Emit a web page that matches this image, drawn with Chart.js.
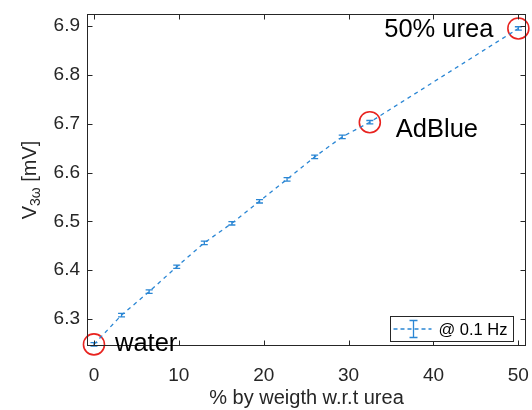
<!DOCTYPE html>
<html><head><meta charset="utf-8">
<script src="https://cdn.jsdelivr.net/npm/chart.js@4/dist/chart.umd.min.js"></script>
<style>html,body{margin:0;padding:0;background:#fff}#wrap{width:532px;height:410px}</style>
</head><body><div id="wrap"><canvas id="c" width="532" height="410"></canvas></div>
<script>
// ---- data ----
const ureaPct = [0, 3.25, 6.5, 9.75, 13, 16.25, 19.5, 22.75, 26, 29.25, 32.5, 50];
const v3w     = [6.248, 6.308, 6.356, 6.407, 6.456, 6.496, 6.541, 6.586, 6.632, 6.673, 6.703, 6.895];
const v3wErr  = [0.0035, 0.0035, 0.0035, 0.0035, 0.0035, 0.0035, 0.0035, 0.0035, 0.0035, 0.0035, 0.0035, 0.0035];
const xTickValues = [0, 10, 20, 30, 40, 50];
const xTickLabels = ['0', '10', '20', '30', '40', '50'];
const yTickValues = [6.3, 6.4, 6.5, 6.6, 6.7, 6.8, 6.9];
const yTickLabels = ['6.3', '6.4', '6.5', '6.6', '6.7', '6.8', '6.9'];
const markedIdx   = [0, 10, 11];
const markedNames = ['water', 'AdBlue', '50% urea'];
const seriesLabel = '@ 0.1 Hz';
const xTitle = '% by weigth w.r.t urea';
const yTitleMain = 'V', yTitleSub = '3\u03C9', yTitleRest = ' [mV]';

// ---- styles ----
const FONT = '"Liberation Sans", Arial, Helvetica, sans-serif';
const AX = '#262626';
const BLUE = '#2a86d4';

const points = ureaPct.map((x, i) => ({x, y: v3w[i]}));
const marked = markedIdx.map(i => ({x: ureaPct[i], y: v3w[i]}));

const errorBars = {
  id: 'errorBars',
  afterDatasetsDraw(chart) {
    const ctx = chart.ctx, xs = chart.scales.x, ys = chart.scales.y;
    ctx.save();
    ctx.strokeStyle = BLUE; ctx.lineWidth = 1.3;
    points.forEach((p, i) => {
      const px = xs.getPixelForValue(p.x);
      const y1 = ys.getPixelForValue(p.y - v3wErr[i]);
      const y2 = ys.getPixelForValue(p.y + v3wErr[i]);
      ctx.beginPath();
      ctx.moveTo(px, y1); ctx.lineTo(px, y2);
      ctx.moveTo(px - 3.5, y1); ctx.lineTo(px + 3.5, y1);
      ctx.moveTo(px - 3.5, y2); ctx.lineTo(px + 3.5, y2);
      ctx.stroke();
    });
    ctx.restore();
  }
};

const frame = {
  id: 'frame',
  afterDraw(chart) {
    const ctx = chart.ctx, a = chart.chartArea, xs = chart.scales.x, ys = chart.scales.y;
    ctx.save();
    ctx.strokeStyle = AX; ctx.lineWidth = 1;
    const L = Math.round(a.left) + 0.5, R = Math.round(a.right) - 0.5;
    const T = Math.round(a.top) + 0.5, B = Math.round(a.bottom) - 0.5;
    ctx.strokeRect(L, T, R - L, B - T);
    ctx.beginPath();
    const tl = 5;
    xTickValues.forEach(v => {
      const px = Math.round(xs.getPixelForValue(v)) + 0.5;
      ctx.moveTo(px, B); ctx.lineTo(px, B - tl);
      ctx.moveTo(px, T); ctx.lineTo(px, T + tl);
    });
    yTickValues.forEach(v => {
      const py = Math.round(ys.getPixelForValue(v)) + 0.5;
      ctx.moveTo(L, py); ctx.lineTo(L + tl, py);
      ctx.moveTo(R, py); ctx.lineTo(R - tl, py);
    });
    ctx.stroke();

    // y title with subscript
    ctx.fillStyle = AX;
    ctx.translate(30, (a.top + a.bottom) / 2);
    ctx.rotate(-Math.PI / 2);
    ctx.textBaseline = 'middle';
    ctx.font = '20px ' + FONT;
    const w1 = ctx.measureText(yTitleMain).width;
    const w3 = ctx.measureText(yTitleRest).width;
    ctx.font = '14px ' + FONT;
    const w2 = ctx.measureText(yTitleSub).width;
    let x0 = -(w1 + w2 + w3) / 2;
    ctx.font = '20px ' + FONT;
    ctx.fillText(yTitleMain, x0, 0);
    ctx.font = '14px ' + FONT;
    ctx.fillText(yTitleSub, x0 + w1, 6);
    ctx.font = '20px ' + FONT;
    ctx.fillText(yTitleRest, x0 + w1 + w2, 0);
    ctx.restore();

    // annotations
    ctx.save();
    ctx.fillStyle = '#000';
    ctx.font = '25.5px ' + FONT;
    ctx.textBaseline = 'middle';
    const offs = [[21, 0, 'left'], [26, 8, 'left'], [-25, 2, 'right']];
    markedIdx.forEach((idx, k) => {
      const px = xs.getPixelForValue(ureaPct[idx]);
      const py = ys.getPixelForValue(v3w[idx]);
      ctx.textAlign = offs[k][2];
      ctx.fillText(markedNames[k], px + offs[k][0], py + offs[k][1]);
    });
    ctx.restore();

    // legend
    ctx.save();
    const bx = 390.5, by = 316.5, bw = 123, bh = 25;
    ctx.fillStyle = '#fff';
    ctx.fillRect(bx, by, bw, bh);
    ctx.strokeStyle = AX; ctx.lineWidth = 1;
    ctx.strokeRect(bx, by, bw, bh);
    ctx.strokeStyle = BLUE; ctx.lineWidth = 1.3;
    ctx.setLineDash([4, 3]);
    ctx.beginPath(); ctx.moveTo(bx + 3, by + bh / 2); ctx.lineTo(bx + 41, by + bh / 2); ctx.stroke();
    ctx.setLineDash([]);
    const cx = bx + 23;
    ctx.beginPath();
    ctx.moveTo(cx, by + 4); ctx.lineTo(cx, by + bh - 4);
    ctx.moveTo(cx - 4, by + 4); ctx.lineTo(cx + 4, by + 4);
    ctx.moveTo(cx - 4, by + bh - 4); ctx.lineTo(cx + 4, by + bh - 4);
    ctx.stroke();
    ctx.fillStyle = '#000';
    ctx.font = '16.5px ' + FONT;
    ctx.textBaseline = 'middle';
    ctx.fillText(seriesLabel, bx + 48, by + bh / 2 + 1);
    ctx.restore();
  }
};

new Chart(document.getElementById('c'), {
  type: 'scatter',
  data: {
    datasets: [
      {label: seriesLabel, data: points, showLine: true, borderColor: BLUE, borderWidth: 1.3,
       borderDash: [4, 4], pointRadius: 0, fill: false, tension: 0},
      {label: 'marked', data: marked, showLine: false, pointRadius: 10.5, pointHoverRadius: 10.5,
       pointBorderColor: '#e8231f', pointBackgroundColor: 'rgba(0,0,0,0)', pointBorderWidth: 1.6, clip: false}
    ]
  },
  options: {
    responsive: false, animation: false, devicePixelRatio: 1,
    layout: {padding: {left: 0, right: 6, top: 14, bottom: 0}, autoPadding: false},
    plugins: {legend: {display: false}, tooltip: {enabled: false}},
    scales: {
      x: {
        type: 'linear', min: -0.82, max: 50.9,
        afterBuildTicks: s => { s.ticks = xTickValues.map(v => ({value: v})); },
        afterFit: s => { s.height = 64; s.paddingLeft = 0; s.paddingRight = 0; },
        grid: {display: false, drawTicks: false},
        border: {display: false},
        ticks: {padding: 18, color: AX, font: {family: FONT, size: 19},
                callback: (v) => xTickLabels[xTickValues.indexOf(v)], maxRotation: 0, autoSkip: false},
        title: {display: true, text: xTitle, color: AX, font: {family: FONT, size: 20}, padding: {top: 0, bottom: 0}}
      },
      y: {
        type: 'linear', min: 6.2447, max: 6.9246,
        afterBuildTicks: s => { s.ticks = yTickValues.map(v => ({value: v})); },
        afterFit: s => { s.width = 87; s.paddingTop = 0; s.paddingBottom = 0; },
        grid: {display: false, drawTicks: false},
        border: {display: false},
        ticks: {padding: 7, color: AX, font: {family: FONT, size: 19},
                callback: (v) => yTickLabels[yTickValues.findIndex(t => Math.abs(t - v) < 1e-9)], autoSkip: false}
      }
    }
  },
  plugins: [errorBars, frame]
});
</script></body></html>
